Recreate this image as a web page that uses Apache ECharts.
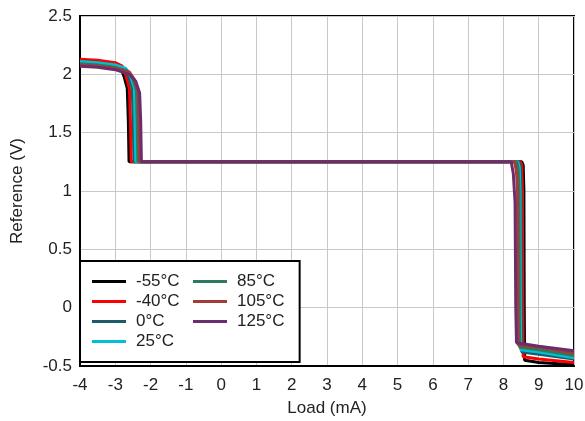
<!DOCTYPE html>
<html><head><meta charset="utf-8">
<script src="https://cdn.jsdelivr.net/npm/echarts@6/dist/echarts.min.js"></script>
<style>html,body{margin:0;padding:0;background:#fff}#c{width:585px;height:421px}</style>
</head><body><div id="c"></div>
<script>
var xTicks = [-4,-3,-2,-1,0,1,2,3,4,5,6,7,8,9,10];
var yTicks = [-0.5,0,0.5,1,1.5,2,2.5];
var names = ['-55°C','-40°C','0°C','25°C','85°C','105°C','125°C'];
var colors = ['#000000','#ff0000','#1d5b6b','#00c0d2','#2e7b5b','#a33b3b','#6b2d6b'];
var s_m55 = [[-4,2.12],[-3.5,2.11],[-3.0,2.09],[-2.85,2.06],[-2.75,1.98],[-2.66,1.88],[-2.63,1.6],[-2.61,1.25],[8.52,1.25],[8.56,1.22],[8.58,1.0],[8.59,0],[8.6,-0.45],[9,-0.47],[10,-0.49]];
var s_m40 = [[-4,2.13],[-3.5,2.12],[-3.0,2.1],[-2.8,2.07],[-2.7,1.99],[-2.6,1.88],[-2.57,1.6],[-2.55,1.25],[8.48,1.25],[8.52,1.22],[8.54,1.0],[8.55,0],[8.56,-0.42],[9,-0.44],[10,-0.47]];
var s_0 = [[-4,2.11],[-3.5,2.1],[-3.0,2.08],[-2.75,2.05],[-2.62,1.98],[-2.52,1.88],[-2.49,1.6],[-2.47,1.25],[8.44,1.25],[8.48,1.2],[8.5,1.0],[8.51,0],[8.52,-0.38],[9,-0.4],[10,-0.44]];
var s_25 = [[-4,2.11],[-3.5,2.1],[-3.0,2.08],[-2.7,2.05],[-2.56,1.98],[-2.46,1.88],[-2.44,1.6],[-2.42,1.25],[8.41,1.25],[8.45,1.2],[8.47,1.0],[8.48,0],[8.49,-0.36],[9,-0.38],[10,-0.43]];
var s_85 = [[-4,2.09],[-3.5,2.08],[-3.0,2.06],[-2.65,2.03],[-2.5,1.96],[-2.4,1.86],[-2.38,1.6],[-2.36,1.25],[8.38,1.25],[8.42,1.18],[8.44,1.0],[8.45,0],[8.46,-0.34],[9,-0.36],[10,-0.41]];
var s_105 = [[-4,2.08],[-3.5,2.07],[-3.0,2.05],[-2.6,2.02],[-2.45,1.95],[-2.35,1.85],[-2.33,1.6],[-2.31,1.25],[8.32,1.25],[8.37,1.16],[8.4,1.0],[8.41,0],[8.42,-0.32],[9,-0.34],[10,-0.39]];
var s_125 = [[-4,2.07],[-3.5,2.06],[-3.0,2.04],[-2.6,2.0],[-2.42,1.94],[-2.31,1.84],[-2.28,1.6],[-2.26,1.25],[8.22,1.25],[8.28,1.15],[8.33,0.9],[8.35,0],[8.37,-0.3],[9,-0.33],[10,-0.37]];
var allData = [s_m55,s_m40,s_0,s_25,s_85,s_105,s_125];

var font = 'Liberation Sans, Arial, sans-serif';
var fs = 17;
var series = names.map(function(n,i){
  return {name:n,type:'line',data:allData[i],showSymbol:false,symbol:'none',
    lineStyle:{color:colors[i],width:3},itemStyle:{color:colors[i]},z:2+i,animation:false};
});
var legendText = {fontFamily:font,fontSize:fs,color:'#222',lineHeight:17,padding:[0,0,0,5]};
var chart = echarts.init(document.getElementById('c'),null,{renderer:'canvas'});
chart.setOption({
  animation:false,
  backgroundColor:'#fff',
  grid:{left:80,right:11,top:16,bottom:55,containLabel:false,outerBoundsMode:'none',show:true,borderColor:'#000',borderWidth:2,backgroundColor:'transparent'},
  xAxis:{type:'value',min:-4,max:10,interval:1,
    name:'Load (mA)',nameLocation:'middle',nameGap:34,
    nameTextStyle:{fontFamily:font,fontSize:fs,color:'#222'},
    axisLine:{show:true,onZero:false,lineStyle:{color:'#000',width:2}},
    axisTick:{show:false},
    axisLabel:{fontFamily:font,fontSize:fs,color:'#222',margin:11},
    splitLine:{show:true,lineStyle:{color:'#c8c8c8',width:1}}},
  yAxis:{type:'value',min:-0.5,max:2.5,interval:0.5,
    name:'Reference (V)',nameLocation:'middle',nameGap:54,
    nameTextStyle:{fontFamily:font,fontSize:fs,color:'#222'},
    axisLine:{show:true,onZero:false,lineStyle:{color:'#000',width:2}},
    axisTick:{show:false},
    axisLabel:{fontFamily:font,fontSize:fs,color:'#222',margin:8},
    splitLine:{show:true,lineStyle:{color:'#c8c8c8',width:1}}},
  legend:[
    {show:true,orient:'vertical',left:80,top:261,
      padding:[12,120,12,12],itemGap:3,itemWidth:34,itemHeight:3,icon:'rect',
      borderColor:'#000',borderWidth:2,backgroundColor:'#fff',
      textStyle:legendText,data:names.slice(0,4),z:10},
    {show:true,orient:'vertical',left:181,top:261,
      padding:[12,0,0,12],itemGap:3,itemWidth:34,itemHeight:3,icon:'rect',
      textStyle:legendText,data:names.slice(4),z:11}
  ],
  series:series
});
</script></body></html>
